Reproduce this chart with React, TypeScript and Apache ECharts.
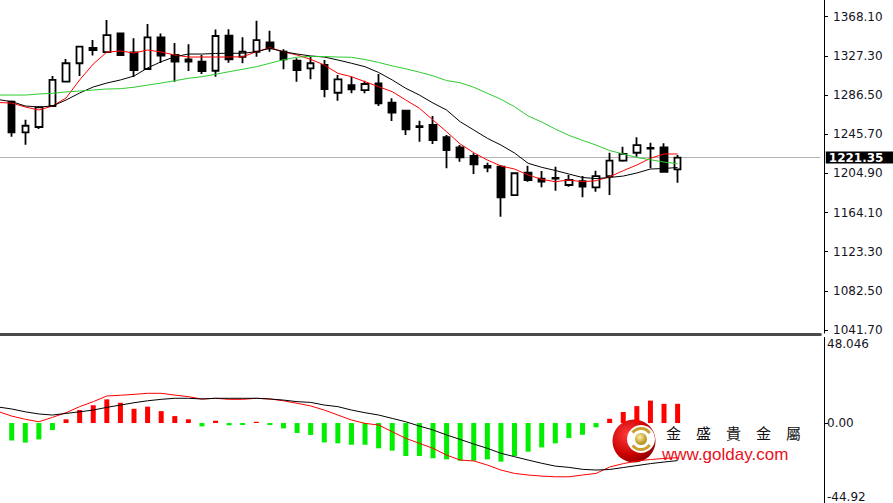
import React, { useEffect, useRef } from "react";
import * as echarts from "echarts";

// ---------- data ----------
const opens = [1279.5,1247.7,1253.2,1275.1,1300.4,1319.6,1335.5,1331.3,1350.6,1330.8,1313.6,1346.6,1328.2,1323.5,1321.2,1311.8,1348.3,1326.4,1331.6,1341.4,1331.6,1322.3,1314.3,1317.8,1288.9,1296.9,1291.7,1298.7,1278.5,1270.2,1254.2,1255.3,1242.5,1232.0,1223.0,1212.6,1211.8,1182.3,1205.6,1199.5,1200.1,1192.8,1196.9,1190.4,1202.1,1218.1,1226.4,1231.3,1232.0,1209.1];
const closes = [1247.7,1254.5,1273.7,1302.2,1319.6,1336.9,1333.4,1349.0,1328.2,1312.6,1346.6,1327.7,1321.2,1321.4,1311.5,1348.0,1323.7,1331.6,1343.8,1335.2,1323.7,1312.6,1319.6,1292.8,1302.9,1292.5,1298.0,1277.9,1268.1,1250.8,1253.2,1239.6,1229.2,1221.6,1214.3,1211.0,1180.0,1205.0,1198.0,1196.4,1199.5,1198.0,1191.0,1202.1,1218.1,1225.1,1234.4,1230.8,1206.6,1221.35];
const lows = [1243.1,1234.8,1251.1,1274.6,1300.1,1306.3,1327.7,1330.8,1327.2,1305.3,1312.6,1319.9,1300.4,1311.5,1308.4,1305.6,1320.2,1319.6,1326.4,1331.6,1313.3,1300.4,1302.9,1284.1,1280.6,1288.3,1288.3,1275.1,1259.4,1244.9,1237.9,1235.5,1210.2,1217.0,1204.2,1206.0,1159.7,1181.8,1196.2,1190.4,1186.8,1191.0,1180.0,1185.8,1182.3,1217.0,1222.3,1210.2,1205.6,1195.2];
const highs = [1280.8,1260.8,1275.1,1306.3,1324.0,1337.1,1343.8,1364.7,1351.6,1345.6,1360.5,1350.6,1340.7,1339.3,1328.2,1354.8,1355.0,1346.6,1363.9,1353.5,1334.1,1324.8,1326.4,1323.0,1307.4,1305.6,1301.4,1308.4,1283.1,1270.9,1259.8,1264.7,1244.9,1234.4,1225.8,1216.0,1213.6,1205.3,1212.9,1207.4,1211.8,1203.2,1202.1,1207.7,1226.4,1232.7,1242.5,1236.8,1236.2,1224.0];

// moving averages: first value belongs to the bar just before the visible window
const maRed = [1278.7,1278.2,1274.0,1270.9,1275.1,1283.4,1302.2,1318.8,1331.3,1332.4,1330.3,1333.4,1331.3,1328.2,1326.1,1326.1,1326.1,1326.1,1326.4,1331.6,1335.8,1331.6,1328.2,1323.7,1317.8,1309.1,1305.6,1300.4,1295.2,1290.0,1281.3,1272.7,1260.5,1248.3,1235.5,1226.4,1218.8,1212.6,1209.4,1203.2,1198.7,1196.2,1198.0,1196.2,1197.2,1201.4,1207.7,1213.6,1220.6,1225.1,1225.1];
const maBlack = [1281.8,1279.6,1275.1,1274.0,1275.1,1281.3,1288.6,1294.9,1299.0,1302.2,1306.3,1314.7,1321.2,1326.4,1329.2,1329.2,1329.8,1330.0,1330.0,1331.6,1335.2,1331.6,1329.2,1327.2,1326.1,1323.0,1319.6,1316.0,1310.0,1302.2,1293.5,1286.5,1278.2,1270.9,1258.7,1250.1,1241.4,1234.4,1226.1,1215.4,1211.2,1207.9,1204.2,1200.6,1199.5,1200.6,1202.1,1205.3,1209.4,1210.0,1211.0];
const maGreen = [1286.5,1286.5,1286.5,1287.6,1288.3,1289.7,1290.7,1291.7,1292.8,1293.1,1294.6,1296.9,1299.0,1301.4,1303.9,1305.6,1308.1,1310.8,1313.3,1316.0,1319.6,1323.3,1325.9,1326.8,1326.6,1326.1,1325.8,1323.5,1320.4,1316.9,1313.8,1310.3,1306.5,1301.6,1299.3,1294.6,1288.3,1282.1,1274.3,1264.7,1258.4,1251.1,1244.5,1239.3,1234.4,1228.7,1225.1,1221.4,1219.1,1216.7,1214.9];

// MACD pane (first value of the lines belongs to the previous bar)
const difLine = [6.5,3.9,2.1,0.7,3.2,5.8,9.2,12.0,15.2,15.6,16.1,16.7,16.7,15.7,14.8,13.5,13.9,13.3,13.3,13.9,13.5,12.5,11.1,9.6,7.3,4.5,1.7,-0.2,-1.1,-4.9,-8.6,-11.4,-14.2,-18.0,-20.8,-21.3,-23.6,-26.4,-28.3,-29.2,-29.8,-30.2,-30.2,-29.2,-28.3,-24.7,-22.8,-21.3,-20.5,-19.9,-19.4];
const deaLine = [9.0,7.9,6.3,5.1,4.5,5.4,6.3,7.3,8.8,10.1,11.4,12.5,13.3,13.9,13.9,13.5,13.9,13.9,13.9,13.9,13.5,12.9,12.0,11.6,10.1,9.2,7.3,5.8,4.5,2.6,0.7,-1.7,-3.9,-6.7,-9.2,-11.8,-14.2,-17.0,-18.9,-20.8,-22.6,-24.2,-24.9,-26.0,-26.4,-26.1,-25.0,-23.9,-22.8,-21.9,-21.1];
const histogram = [-9.8,-11.0,-9.2,-3.9,2.1,7.3,10.0,13.3,11.4,8.0,9.2,6.7,3.9,2.1,-1.9,1.3,-1.3,-1.1,0.7,-1.1,-3.0,-5.6,-6.7,-10.9,-11.4,-12.2,-12.2,-14.2,-15.5,-18.5,-18.5,-19.8,-20.4,-21.2,-21.2,-20.4,-21.7,-18.5,-16.1,-13.7,-11.4,-8.4,-6.6,-2.4,2.4,6.2,9.5,12.6,10.8,10.8];

// axis tick labels
const priceTicks = [1368.10, 1327.30, 1286.50, 1245.70, 1204.90, 1164.10, 1123.30, 1082.50, 1041.70];
const macdTop = 48.046;
const macdBottom = -44.92;
const macdTicks = [macdTop, 0, macdBottom];

const brandName = "金　盛　貴　金　屬";
const brandUrl = "www.golday.com";

// ---------- layout ----------
const EMPTY_AFTER = 10;
const slotCount = 1 + opens.length + EMPTY_AFTER;
const slots = Array.from({ length: slotCount }, (_, i) => "B" + i);
const pad = (n: number) => Array(n).fill("-");

const GRID_LEFT = -8.685;
const GRID_RIGHT = 72.7;
const AXIS_FONT = "DejaVu Sans";
const LABEL_COLOR = "#15151f";

export default function App() {
  const ref = useRef<HTMLDivElement>(null);

  useEffect(() => {
    document.body.style.margin = "0";
    const chart = echarts.init(ref.current!, null, { renderer: "svg" });

    const candleData = [
      "-",
      ...opens.map((o, i) => [o, closes[i], lows[i], highs[i]]),
      ...pad(EMPTY_AFTER),
    ];
    const lastClose = closes[closes.length - 1];

    const lineSeries = (name: string, data: number[], color: string, xi: number) => ({
      name,
      type: "line",
      xAxisIndex: xi,
      yAxisIndex: xi,
      data: [...data, ...pad(EMPTY_AFTER)],
      symbol: "none",
      showSymbol: false,
      lineStyle: { color, width: 1 },
      silent: true,
      z: 3,
    });

    const option: any = {
      animation: false,
      backgroundColor: "#ffffff",
      grid: [
        { left: GRID_LEFT, right: GRID_RIGHT, top: 0, height: 333, containLabel: false, outerBoundsMode: "none" },
        { left: GRID_LEFT, right: GRID_RIGHT, top: 337.5, height: 165.5, containLabel: false, outerBoundsMode: "none" },
      ],
      xAxis: [
        {
          type: "category",
          gridIndex: 0,
          data: slots,
          boundaryGap: true,
          offset: 1.5,
          axisLine: { show: true, onZero: false, lineStyle: { color: "#4a4a4a", width: 3 } },
          axisTick: { show: false },
          axisLabel: { show: false },
          splitLine: { show: false },
        },
        {
          type: "category",
          gridIndex: 1,
          data: slots,
          boundaryGap: true,
          axisLine: { show: false },
          axisTick: { show: false },
          axisLabel: { show: false },
          splitLine: { show: false },
        },
      ],
      yAxis: [
        {
          type: "value",
          gridIndex: 0,
          position: "right",
          offset: 3.7,
          min: 1038.6,
          max: 1385.5,
          scale: true,
          axisLine: { show: true, lineStyle: { color: "#000", width: 1 } },
          axisTick: { show: true, length: 4, lineStyle: { color: "#000" }, customValues: priceTicks },
          axisLabel: {
            customValues: priceTicks,
            formatter: (v: number) => Number(v).toFixed(2),
            color: LABEL_COLOR,
            fontSize: 12,
            lineHeight: 12,
            fontFamily: AXIS_FONT,
            margin: 9,
          },
          splitLine: { show: false },
        },
        {
          type: "value",
          gridIndex: 1,
          position: "right",
          offset: 3.7,
          min: macdBottom,
          max: macdTop,
          axisLine: { show: true, lineStyle: { color: "#000", width: 1 } },
          axisTick: { show: true, length: 4, lineStyle: { color: "#000" }, customValues: [0] },
          axisLabel: {
            customValues: macdTicks,
            formatter: (v: number) => {
              if (Math.abs(v) < 1e-9) return "{m|0.00}";
              if (v > 0) return "{t|" + String(macdTop) + "}";
              return "{b|" + String(macdBottom) + "}";
            },
            color: LABEL_COLOR,
            fontSize: 12,
            fontFamily: AXIS_FONT,
            margin: 3,
            rich: {
              t: { padding: [12, 0, 0, 0], lineHeight: 12, color: LABEL_COLOR, fontSize: 12, fontFamily: AXIS_FONT },
              m: { lineHeight: 12, color: LABEL_COLOR, fontSize: 12, fontFamily: AXIS_FONT },
              b: { padding: [0, 0, 12, 0], lineHeight: 12, color: LABEL_COLOR, fontSize: 12, fontFamily: AXIS_FONT },
            },
          },
          splitLine: { show: false },
        },
      ],
      series: [
        {
          name: "K",
          type: "candlestick",
          xAxisIndex: 0,
          yAxisIndex: 0,
          data: candleData,
          barWidth: 7,
          silent: true,
          z: 2,
          itemStyle: {
            color: "#ffffff",
            color0: "#000000",
            borderColor: "#000000",
            borderColor0: "#000000",
            borderWidth: 1.8,
          },
          markLine: {
            silent: true,
            symbol: ["none", "none"],
            data: [{ yAxis: lastClose }],
            lineStyle: { color: "#b4b4b4", width: 1, type: "solid" },
            label: {
              show: true,
              position: "end",
              distance: 5.5,
              formatter: lastClose.toFixed(2),
              color: "#ffffff",
              backgroundColor: "#000000",
              fontFamily: AXIS_FONT,
              fontSize: 12,
              lineHeight: 12,
              fontWeight: "bold",
              padding: [0, 10, 0, 3],
            },
            z: 1,
          },
        },
        lineSeries("MA-red", maRed, "#ff0000", 0),
        lineSeries("MA-black", maBlack, "#000000", 0),
        lineSeries("MA-green", maGreen, "#2ecc2e", 0),
        {
          name: "MACD",
          type: "bar",
          xAxisIndex: 1,
          yAxisIndex: 1,
          barWidth: 5,
          silent: true,
          data: ["-", ...histogram.map((v) => ({
            value: v,
            itemStyle: { color: v >= 0 ? "#ff0000" : "#00ee00" },
          })), ...pad(EMPTY_AFTER)],
          z: 2,
        },
        lineSeries("DIF", difLine, "#ff0000", 1),
        lineSeries("DEA", deaLine, "#000000", 1),
      ],
      graphic: [
        {
          type: "group",
          z: 100,
          silent: true,
          children: [
            {
              type: "circle",
              shape: { cx: 634, cy: 441, r: 21.5 },
              style: {
                fill: {
                  type: "radial", x: 0.35, y: 0.35, r: 0.8,
                  colorStops: [
                    { offset: 0, color: "#ff3b3b" },
                    { offset: 0.6, color: "#c80000" },
                    { offset: 1, color: "#760000" },
                  ],
                },
              },
            },
            { type: "circle", shape: { cx: 641, cy: 439, r: 14 }, style: { fill: "#ffffff" } },
            {
              type: "arc",
              shape: { cx: 641, cy: 439, r: 10.5, startAngle: -2.5, endAngle: -0.6, clockwise: true },
              style: { stroke: "#c9a030", lineWidth: 3, fill: "none" },
            },
            {
              type: "arc",
              shape: { cx: 641, cy: 439, r: 10.5, startAngle: 0.6, endAngle: 2.5, clockwise: true },
              style: { stroke: "#c9a030", lineWidth: 3, fill: "none" },
            },
            {
              type: "circle",
              shape: { cx: 641, cy: 439, r: 6 },
              style: {
                fill: {
                  type: "radial", x: 0.4, y: 0.35, r: 0.7,
                  colorStops: [
                    { offset: 0, color: "#fff0a0" },
                    { offset: 1, color: "#a88008" },
                  ],
                },
              },
            },
            {
              type: "text",
              x: 666,
              y: 432,
              style: {
                text: brandName,
                font: '15px "Noto Sans CJK TC"',
                lineHeight: 15,
                fill: "#111111",
                textVerticalAlign: "middle",
              },
            },
            {
              type: "text",
              x: 662,
              y: 454,
              style: {
                text: brandUrl,
                font: '17px "Liberation Sans"',
                lineHeight: 16,
                fill: "#e8101c",
                textVerticalAlign: "middle",
              },
            },
          ],
        },
      ],
    };

    chart.setOption(option);
    return () => chart.dispose();
  }, []);

  return <div ref={ref} style={{ width: 893, height: 503 }} />;
}
